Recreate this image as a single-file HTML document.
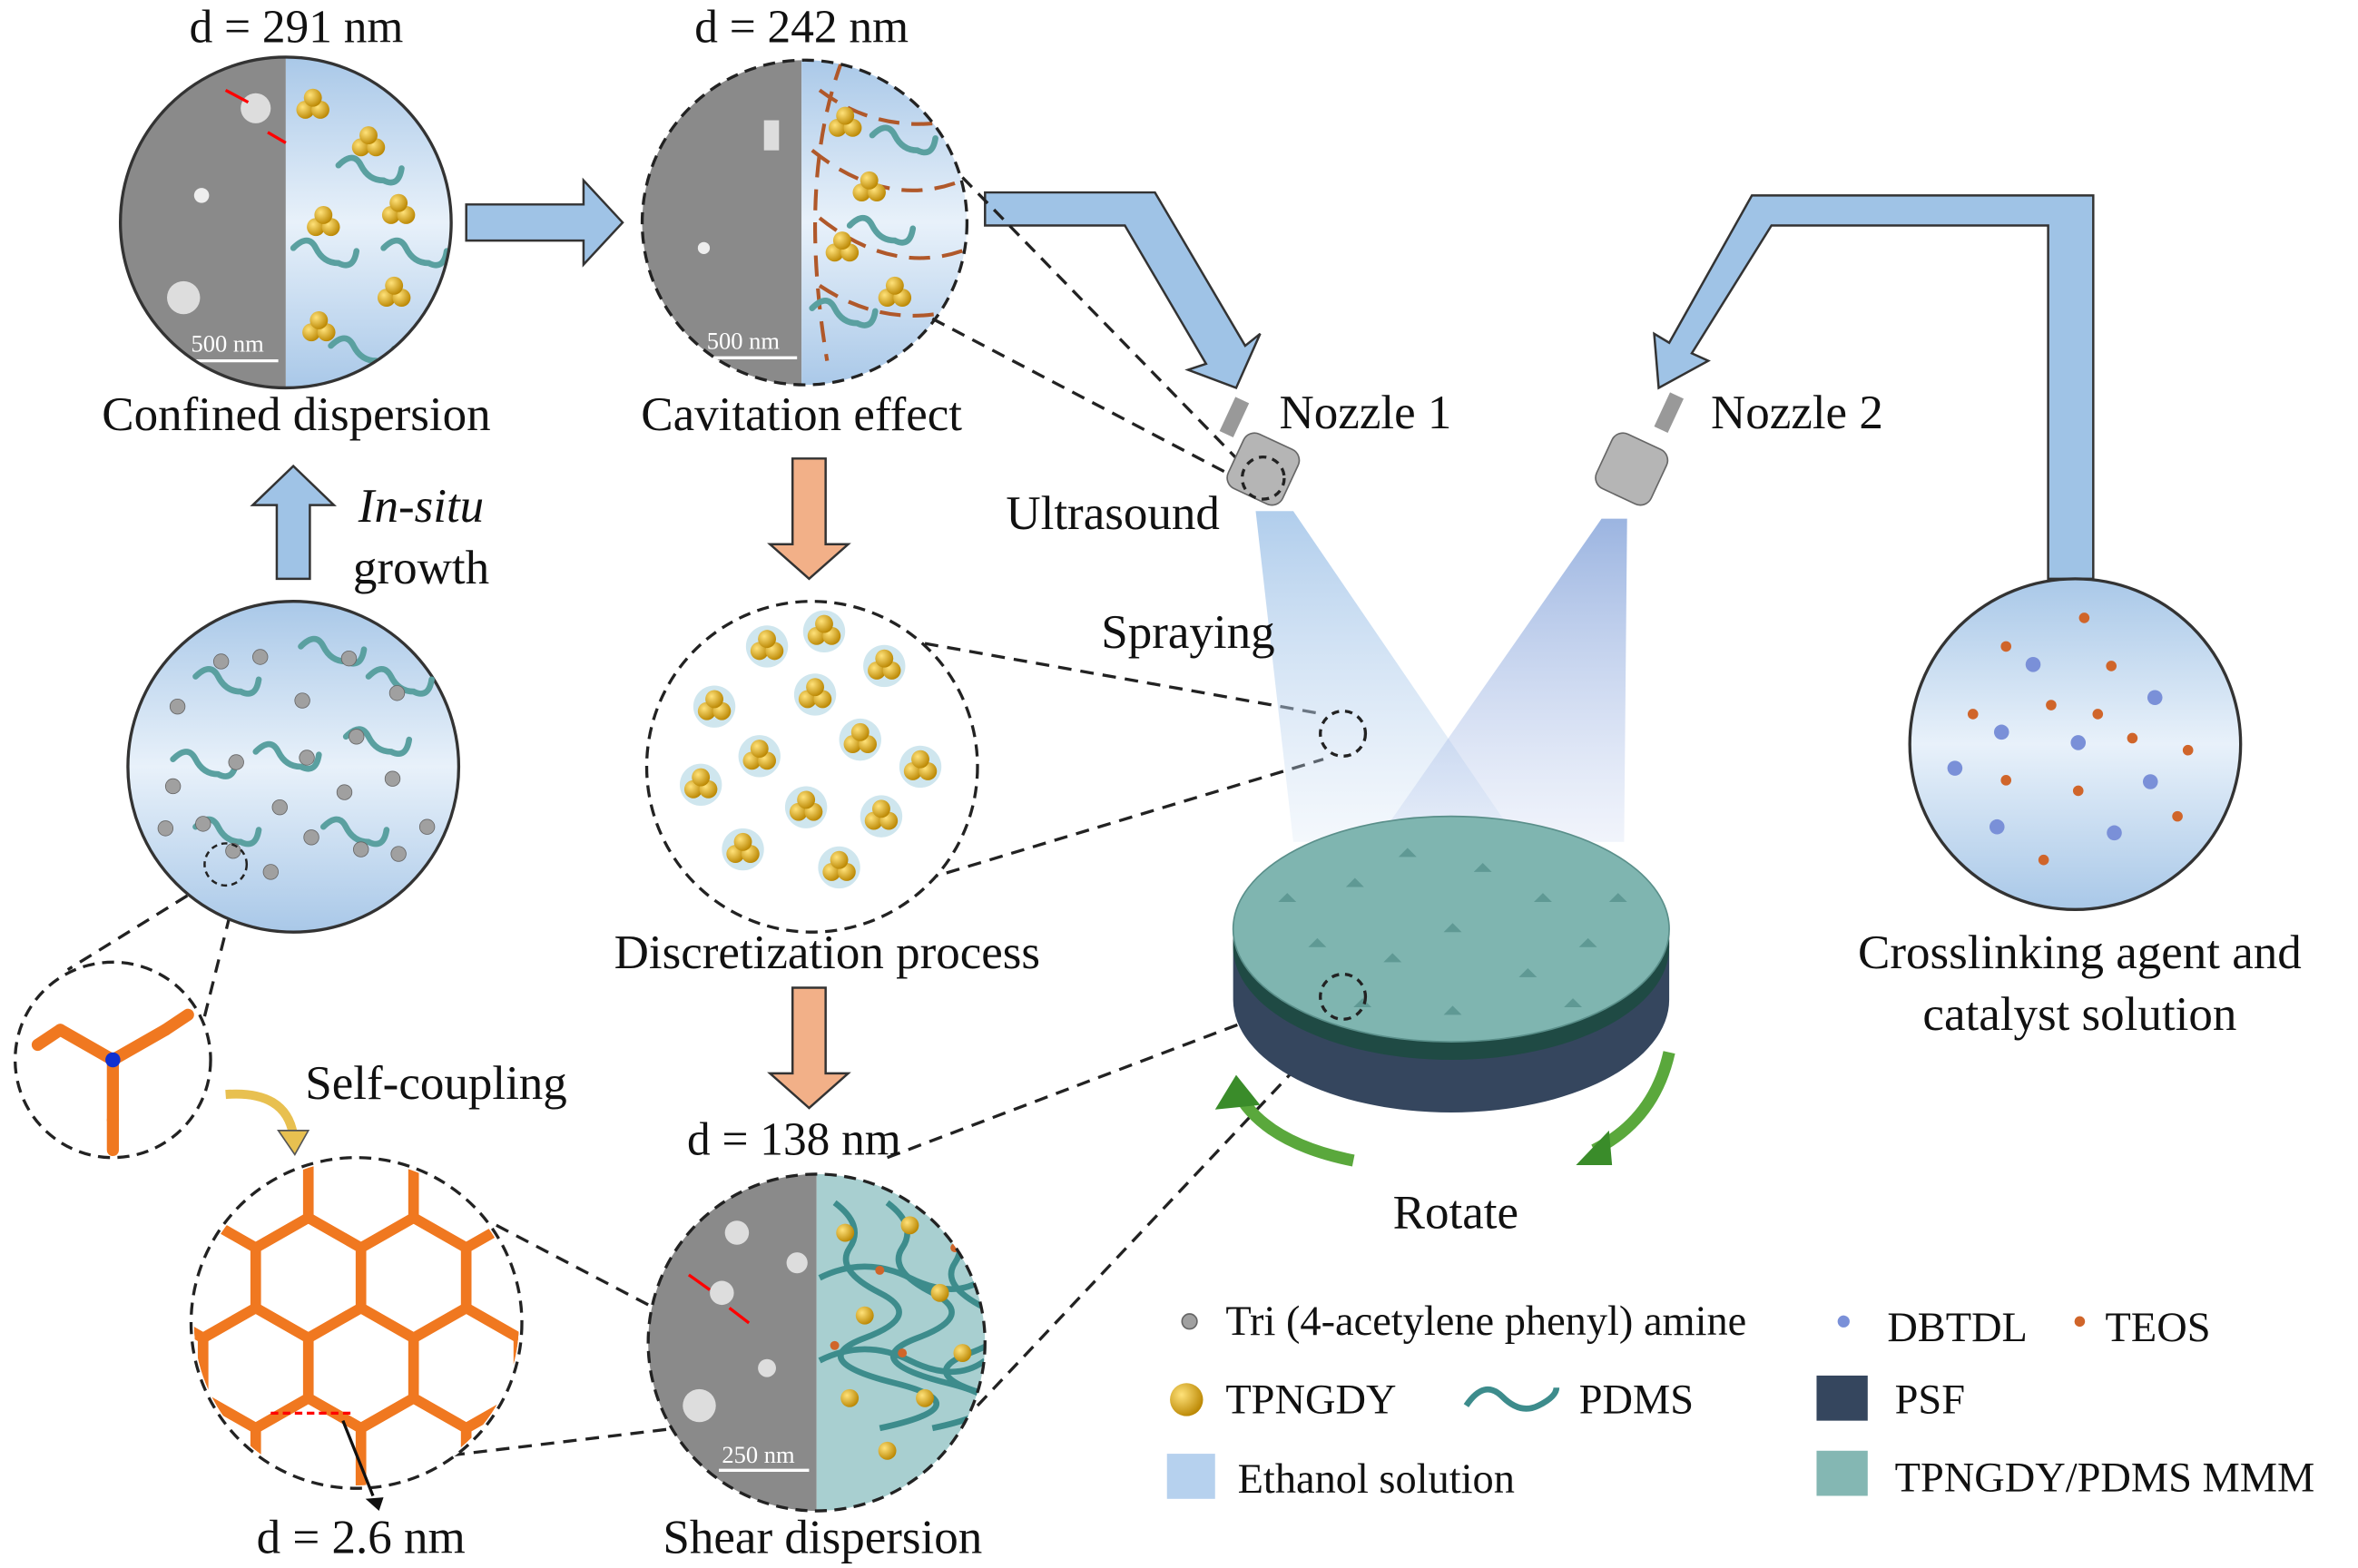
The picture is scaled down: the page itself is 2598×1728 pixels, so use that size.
<!DOCTYPE html>
<html><head><meta charset="utf-8"><style>
html,body{margin:0;padding:0;background:#fff;}
svg{display:block;}
text{font-family:"Liberation Serif",serif;fill:#111;}
</style></head><body>
<svg width="2598" height="1728" viewBox="0 0 1568 1043" xmlns="http://www.w3.org/2000/svg">
<defs>
<linearGradient id="bl" x1="0" y1="0" x2="0" y2="1"><stop offset="0" stop-color="#a9c8e8"/><stop offset="0.5" stop-color="#e8f1fa"/><stop offset="1" stop-color="#a9c8e8"/></linearGradient>
<radialGradient id="gold" cx="0.35" cy="0.35" r="0.7"><stop offset="0" stop-color="#ffe27a"/><stop offset="1" stop-color="#b98500"/></radialGradient>
<linearGradient id="cone1" x1="0" y1="0" x2="0" y2="1"><stop offset="0" stop-color="#a8c8ea" stop-opacity="0.9"/><stop offset="1" stop-color="#c8dcf2" stop-opacity="0.2"/></linearGradient>
<linearGradient id="cone2" x1="0" y1="0" x2="0" y2="1"><stop offset="0" stop-color="#90acdd" stop-opacity="0.9"/><stop offset="1" stop-color="#b8c8ec" stop-opacity="0.2"/></linearGradient>
<clipPath id="c1"><circle cx="190" cy="148" r="110"/></clipPath>
<clipPath id="c2"><circle cx="535" cy="148" r="108"/></clipPath>
<clipPath id="c4"><circle cx="543" cy="893" r="112"/></clipPath>
<clipPath id="c6"><circle cx="237" cy="880" r="108"/></clipPath>
<g id="ball"><circle cx="0" cy="0" r="6" fill="url(#gold)"/></g>
<g id="tri"><circle cx="-5" cy="3" r="6" fill="url(#gold)"/><circle cx="5" cy="3" r="6" fill="url(#gold)"/><circle cx="0" cy="-5" r="6" fill="url(#gold)"/></g>
<path id="worm" d="M-20 -10 q10 -10 15 0 t15 10 q10 5 12 -8" fill="none" stroke="#5aa0a0" stroke-width="4" stroke-linecap="round"/>
<polygon id="hex" points="0,-40 35,-20 35,20 0,40 -35,20 -35,-20"/>
</defs>

<!-- Circle 1 -->
<g clip-path="url(#c1)">
<rect x="80" y="38" width="110" height="220" fill="#8a8a8a"/>
<rect x="190" y="38" width="110" height="220" fill="url(#bl)"/>
<circle cx="170" cy="72" r="10" fill="#ddd"/><circle cx="134" cy="130" r="5" fill="#eee"/><circle cx="122" cy="198" r="11" fill="#ddd"/>
<line x1="125" y1="240" x2="185" y2="240" stroke="#fff" stroke-width="2"/>
<use href="#tri" x="208" y="70"/><use href="#tri" x="245" y="95"/><use href="#tri" x="215" y="148"/><use href="#tri" x="265" y="140"/><use href="#tri" x="212" y="218"/><use href="#tri" x="262" y="195"/>
<use href="#worm" x="245" y="120"/><use href="#worm" x="215" y="175"/><use href="#worm" x="275" y="175"/><use href="#worm" x="240" y="240"/>
</g>
<circle cx="190" cy="148" r="110" fill="none" stroke="#333" stroke-width="2"/>
<text x="127" y="234" font-size="16" style="fill:#fff">500 nm</text>
<line x1="150" y1="60" x2="165" y2="68" stroke="red" stroke-width="2"/><line x1="178" y1="88" x2="190" y2="95" stroke="red" stroke-width="2"/>
<text x="197" y="28" font-size="31" text-anchor="middle">d = 291 nm</text>
<text x="197" y="286" font-size="32" text-anchor="middle">Confined dispersion</text>

<path d="M310 136 H388 V120 L414 148 L388 176 V160 H310 Z" fill="#9fc3e6" stroke="#333" stroke-width="1.5"/>

<!-- Circle 2 -->
<g clip-path="url(#c2)">
<rect x="425" y="38" width="108" height="220" fill="#8a8a8a"/>
<rect x="533" y="38" width="110" height="220" fill="url(#bl)"/>
<rect x="508" y="80" width="10" height="20" fill="#ddd"/><circle cx="468" cy="165" r="4" fill="#eee"/>
<line x1="470" y1="238" x2="530" y2="238" stroke="#fff" stroke-width="2"/>
<g fill="none" stroke="#b0582a" stroke-width="2.5" stroke-dasharray="14 8">
<path d="M545 60 q40 30 90 20"/><path d="M540 100 q50 40 100 20"/><path d="M545 145 q50 40 100 20"/><path d="M545 190 q45 30 95 15"/><path d="M560 40 q-30 80 -10 200"/>
</g>
<use href="#tri" x="562" y="82"/><use href="#tri" x="578" y="125"/><use href="#tri" x="560" y="165"/><use href="#tri" x="595" y="195"/>
<use href="#worm" x="600" y="100"/><use href="#worm" x="585" y="160"/><use href="#worm" x="560" y="215"/>
</g>
<circle cx="535" cy="148" r="108" fill="none" stroke="#222" stroke-width="2" stroke-dasharray="8 5"/>
<text x="470" y="232" font-size="16" style="fill:#fff">500 nm</text>
<text x="533" y="28" font-size="31" text-anchor="middle">d = 242 nm</text>
<text x="533" y="286" font-size="32" text-anchor="middle">Cavitation effect</text>

<path d="M655 128 H768 L828 230 L838 222 L822 258 L790 246 L802 242 L748 150 H655 Z" fill="#9fc3e6" stroke="#333" stroke-width="1.5"/>
<path d="M1362 385 V150 H1178 L1125 235 L1136 240 L1103 258 L1100 222 L1110 228 L1165 130 H1392 V385 Z" fill="#9fc3e6" stroke="#333" stroke-width="1.5"/>

<g stroke="#222" stroke-width="2" stroke-dasharray="9 6" fill="none">
<line x1="640" y1="118" x2="835" y2="318"/><line x1="620" y1="212" x2="830" y2="322"/>
<line x1="615" y1="428" x2="880" y2="475"/><line x1="615" y1="585" x2="880" y2="505"/>
<line x1="590" y1="770" x2="880" y2="660"/><line x1="650" y1="935" x2="900" y2="670"/>
<line x1="150" y1="580" x2="45" y2="645"/><line x1="160" y1="580" x2="135" y2="680"/>
<line x1="330" y1="815" x2="540" y2="925"/><line x1="300" y1="968" x2="450" y2="950"/>
</g>

<polygon points="835,340 860,340 1010,560 860,560" fill="url(#cone1)"/>
<polygon points="1065,345 1082,345 1080,560 915,560" fill="url(#cone2)"/>
<circle cx="893" cy="488" r="15" fill="none" stroke="#222" stroke-width="2" stroke-dasharray="5 4"/>

<g><rect x="820" y="292" width="40" height="40" rx="8" fill="#b5b5b5" stroke="#666" transform="rotate(25 840 312)"/><rect x="816" y="265" width="10" height="25" fill="#999" transform="rotate(25 821 277)"/>
<circle cx="840" cy="318" r="14" fill="none" stroke="#222" stroke-width="2" stroke-dasharray="5 4"/></g>
<g><rect x="1065" y="292" width="40" height="40" rx="8" fill="#b5b5b5" stroke="#666" transform="rotate(25 1085 312)"/><rect x="1105" y="262" width="10" height="25" fill="#999" transform="rotate(25 1110 274)"/></g>
<text x="908" y="285" font-size="32" text-anchor="middle">Nozzle 1</text>
<text x="1195" y="285" font-size="32" text-anchor="middle">Nozzle 2</text>
<text x="740" y="352" font-size="32" text-anchor="middle">Ultrasound</text>
<text x="790" y="431" font-size="32" text-anchor="middle">Spraying</text>

<path d="M820 625 v40 a145 75 0 0 0 290 0 v-40 Z" fill="#35465e"/>
<path d="M820 618 v12 a145 75 0 0 0 290 0 v-12 Z" fill="#1f4a44"/>
<ellipse cx="965" cy="618" rx="145" ry="75" fill="#7fb5b0" stroke="#5a8f8a"/>
<g fill="#5f9994">
<path d="M895 590 l6 -6 l6 6z"/><path d="M930 570 l6 -6 l6 6z"/><path d="M980 580 l6 -6 l6 6z"/><path d="M1020 600 l6 -6 l6 6z"/><path d="M870 630 l6 -6 l6 6z"/><path d="M920 640 l6 -6 l6 6z"/><path d="M960 620 l6 -6 l6 6z"/><path d="M1010 650 l6 -6 l6 6z"/><path d="M1050 630 l6 -6 l6 6z"/><path d="M900 670 l6 -6 l6 6z"/><path d="M960 675 l6 -6 l6 6z"/><path d="M1040 670 l6 -6 l6 6z"/><path d="M1070 600 l6 -6 l6 6z"/><path d="M850 600 l6 -6 l6 6z"/>
</g>
<circle cx="893" cy="663" r="15" fill="none" stroke="#222" stroke-width="2" stroke-dasharray="5 4"/>
<path d="M900 772 Q840 760 822 725" fill="none" stroke="#5aa83c" stroke-width="8"/><polygon points="808,738 822,715 838,735" fill="#3a8c2a"/>
<path d="M1110 700 Q1100 745 1060 765" fill="none" stroke="#5aa83c" stroke-width="8"/><polygon points="1048,775 1070,752 1072,775" fill="#3a8c2a"/>
<text x="968" y="817" font-size="32" text-anchor="middle">Rotate</text>

<circle cx="1380" cy="495" r="110" fill="url(#bl)" stroke="#333" stroke-width="2"/>
<g fill="#d0652a"><circle cx="1386" cy="411" r="3.5"/><circle cx="1334" cy="430" r="3.5"/><circle cx="1404" cy="443" r="3.5"/><circle cx="1364" cy="469" r="3.5"/><circle cx="1312" cy="475" r="3.5"/><circle cx="1395" cy="475" r="3.5"/><circle cx="1418" cy="491" r="3.5"/><circle cx="1455" cy="499" r="3.5"/><circle cx="1334" cy="519" r="3.5"/><circle cx="1382" cy="526" r="3.5"/><circle cx="1448" cy="543" r="3.5"/><circle cx="1359" cy="572" r="3.5"/></g>
<g fill="#7a90d8"><circle cx="1352" cy="442" r="5"/><circle cx="1433" cy="464" r="5"/><circle cx="1331" cy="487" r="5"/><circle cx="1382" cy="494" r="5"/><circle cx="1300" cy="511" r="5"/><circle cx="1430" cy="520" r="5"/><circle cx="1328" cy="550" r="5"/><circle cx="1406" cy="554" r="5"/></g>
<text x="1383" y="644" font-size="32" text-anchor="middle">Crosslinking agent and</text>
<text x="1383" y="685" font-size="32" text-anchor="middle">catalyst solution</text>

<path d="M527 305 H549 V362 H564 L538 385 L512 362 H527 Z" fill="#f2b088" stroke="#333" stroke-width="1.5"/>
<path d="M527 657 H549 V714 H564 L538 737 L512 714 H527 Z" fill="#f2b088" stroke="#333" stroke-width="1.5"/>

<circle cx="540" cy="510" r="110" fill="#fff" stroke="#222" stroke-width="2" stroke-dasharray="8 5"/>
<g>
<g transform="translate(510,430)"><circle r="14" fill="#cfe6ee"/><use href="#tri"/></g>
<g transform="translate(548,420)"><circle r="14" fill="#cfe6ee"/><use href="#tri"/></g>
<g transform="translate(588,443)"><circle r="14" fill="#cfe6ee"/><use href="#tri"/></g>
<g transform="translate(475,470)"><circle r="14" fill="#cfe6ee"/><use href="#tri"/></g>
<g transform="translate(542,462)"><circle r="14" fill="#cfe6ee"/><use href="#tri"/></g>
<g transform="translate(505,503)"><circle r="14" fill="#cfe6ee"/><use href="#tri"/></g>
<g transform="translate(572,492)"><circle r="14" fill="#cfe6ee"/><use href="#tri"/></g>
<g transform="translate(612,510)"><circle r="14" fill="#cfe6ee"/><use href="#tri"/></g>
<g transform="translate(466,522)"><circle r="14" fill="#cfe6ee"/><use href="#tri"/></g>
<g transform="translate(536,537)"><circle r="14" fill="#cfe6ee"/><use href="#tri"/></g>
<g transform="translate(586,543)"><circle r="14" fill="#cfe6ee"/><use href="#tri"/></g>
<g transform="translate(494,565)"><circle r="14" fill="#cfe6ee"/><use href="#tri"/></g>
<g transform="translate(558,577)"><circle r="14" fill="#cfe6ee"/><use href="#tri"/></g>
</g>
<text x="550" y="644" font-size="32" text-anchor="middle">Discretization process</text>

<g clip-path="url(#c4)">
<rect x="430" y="780" width="113" height="226" fill="#8a8a8a"/>
<rect x="543" y="780" width="115" height="226" fill="#a8cfd0"/>
<circle cx="490" cy="820" r="8" fill="#ddd"/><circle cx="530" cy="840" r="7" fill="#ddd"/><circle cx="480" cy="860" r="8" fill="#ddd"/><circle cx="465" cy="935" r="11" fill="#ddd"/><circle cx="510" cy="910" r="6" fill="#ddd"/>
<line x1="478" y1="978" x2="538" y2="978" stroke="#fff" stroke-width="2"/>
<g fill="none" stroke="#3d8c8c" stroke-width="4">
<path d="M555 800 q20 15 10 30 t20 30 t-10 30 t20 30 t-10 30"/><path d="M590 800 q20 15 10 30 t20 30 t-10 30 t20 30 t-10 30"/><path d="M625 810 q20 15 10 30 t20 30 t-10 30 t20 30"/>
<path d="M545 850 q30 -15 60 0 t50 0"/><path d="M545 905 q30 -15 60 0 t50 0"/>
</g>
<use href="#ball" x="562" y="820"/><use href="#ball" x="605" y="815"/><use href="#ball" x="575" y="875"/><use href="#ball" x="625" y="860"/><use href="#ball" x="565" y="930"/><use href="#ball" x="615" y="930"/><use href="#ball" x="590" y="965"/><use href="#ball" x="640" y="900"/>
<g fill="#d0652a"><circle cx="585" cy="845" r="3"/><circle cx="600" cy="900" r="3"/><circle cx="635" cy="830" r="3"/><circle cx="555" cy="895" r="3"/></g>
</g>
<circle cx="543" cy="893" r="112" fill="none" stroke="#222" stroke-width="2" stroke-dasharray="8 5"/>
<line x1="458" y1="848" x2="472" y2="858" stroke="red" stroke-width="2"/><line x1="485" y1="870" x2="498" y2="880" stroke="red" stroke-width="2"/>
<text x="480" y="973" font-size="16" style="fill:#fff">250 nm</text>
<text x="528" y="768" font-size="31" text-anchor="middle">d = 138 nm</text>
<text x="547" y="1033" font-size="32" text-anchor="middle">Shear dispersion</text>

<path d="M184 385 V336 H168 L195 310 L222 336 H206 V385 Z" fill="#9fc3e6" stroke="#333" stroke-width="1.5"/>
<text x="280" y="347" font-size="32" text-anchor="middle" font-style="italic">In-situ</text>
<text x="280" y="388" font-size="32" text-anchor="middle">growth</text>
<circle cx="195" cy="510" r="110" fill="url(#bl)" stroke="#333" stroke-width="2"/>
<g>
<use href="#worm" x="150" y="460"/><use href="#worm" x="220" y="440"/><use href="#worm" x="135" y="515"/><use href="#worm" x="190" y="510"/><use href="#worm" x="250" y="500"/><use href="#worm" x="150" y="560"/><use href="#worm" x="235" y="560"/><use href="#worm" x="265" y="460"/>
</g>
<g fill="#a0a0a0" stroke="#666" stroke-width="0.5">
<circle cx="147" cy="440" r="5"/><circle cx="173" cy="437" r="5"/><circle cx="232" cy="438" r="5"/><circle cx="118" cy="470" r="5"/><circle cx="201" cy="466" r="5"/><circle cx="264" cy="461" r="5"/><circle cx="237" cy="490" r="5"/><circle cx="157" cy="507" r="5"/><circle cx="204" cy="504" r="5"/><circle cx="115" cy="523" r="5"/><circle cx="186" cy="537" r="5"/><circle cx="261" cy="518" r="5"/><circle cx="229" cy="527" r="5"/><circle cx="110" cy="551" r="5"/><circle cx="135" cy="548" r="5"/><circle cx="207" cy="557" r="5"/><circle cx="284" cy="550" r="5"/><circle cx="240" cy="565" r="5"/><circle cx="155" cy="566" r="5"/><circle cx="265" cy="568" r="5"/><circle cx="180" cy="580" r="5"/>
</g>
<circle cx="150" cy="575" r="14" fill="none" stroke="#222" stroke-width="1.5" stroke-dasharray="4 3"/>

<circle cx="75" cy="705" r="65" fill="#fff" stroke="#222" stroke-width="2" stroke-dasharray="8 5"/>
<g stroke="#f07820" stroke-width="8" stroke-linecap="round" fill="none">
<line x1="75" y1="705" x2="40" y2="685"/><line x1="40" y1="685" x2="25" y2="695"/>
<line x1="75" y1="705" x2="110" y2="685"/><line x1="110" y1="685" x2="125" y2="675"/>
<line x1="75" y1="705" x2="75" y2="745"/><line x1="75" y1="745" x2="75" y2="765"/>
</g>
<circle cx="75" cy="705" r="5" fill="#1030d0"/>
<path d="M150 728 Q190 725 195 755" fill="none" stroke="#e8c050" stroke-width="6"/><polygon points="185,752 205,752 196,768" fill="#e8c050" stroke="#555"/>
<text x="290" y="731" font-size="32" text-anchor="middle">Self-coupling</text>

<circle cx="237" cy="880" r="110" fill="#fff"/>
<g clip-path="url(#c6)" fill="none" stroke="#f07820" stroke-width="7">
<use href="#hex" x="100" y="790"/><use href="#hex" x="170" y="790"/><use href="#hex" x="240" y="790"/><use href="#hex" x="310" y="790"/><use href="#hex" x="380" y="790"/>
<use href="#hex" x="135" y="850"/><use href="#hex" x="205" y="850"/><use href="#hex" x="275" y="850"/><use href="#hex" x="345" y="850"/>
<use href="#hex" x="100" y="910"/><use href="#hex" x="170" y="910"/><use href="#hex" x="240" y="910"/><use href="#hex" x="310" y="910"/><use href="#hex" x="380" y="910"/>
<use href="#hex" x="135" y="970"/><use href="#hex" x="205" y="970"/><use href="#hex" x="275" y="970"/><use href="#hex" x="345" y="970"/>
</g>
<circle cx="237" cy="880" r="110" fill="none" stroke="#222" stroke-width="2" stroke-dasharray="8 5"/>
<line x1="180" y1="940" x2="235" y2="940" stroke="red" stroke-width="2" stroke-dasharray="5 3"/>
<line x1="228" y1="945" x2="248" y2="995" stroke="#111" stroke-width="2"/><polygon points="243,997 255,996 252,1005" fill="#111"/>
<text x="240" y="1033" font-size="32" text-anchor="middle">d = 2.6 nm</text>

<circle cx="791" cy="879" r="5" fill="#a0a0a0" stroke="#666"/>
<text x="815" y="888" font-size="28">Tri (4-acetylene phenyl) amine</text>
<circle cx="1226" cy="879" r="4" fill="#7a90d8"/>
<text x="1255" y="892" font-size="28">DBTDL</text>
<circle cx="1383" cy="879" r="3.5" fill="#d0652a"/>
<text x="1400" y="892" font-size="28">TEOS</text>
<circle cx="789" cy="931" r="11" fill="url(#gold)"/>
<text x="815" y="940" font-size="28">TPNGDY</text>
<path d="M975 935 q12 -18 24 -6 t24 6 t12 -12" fill="none" stroke="#3d8c8c" stroke-width="4"/>
<text x="1050" y="940" font-size="28">PDMS</text>
<rect x="1208" y="915" width="34" height="30" fill="#35465e"/>
<text x="1260" y="940" font-size="28">PSF</text>
<rect x="776" y="967" width="32" height="30" fill="#b6d1ee"/>
<text x="823" y="993" font-size="28">Ethanol solution</text>
<rect x="1208" y="965" width="34" height="30" fill="#84b7b3"/>
<text x="1260" y="992" font-size="28">TPNGDY/PDMS MMM</text>
</svg>
</body></html>
